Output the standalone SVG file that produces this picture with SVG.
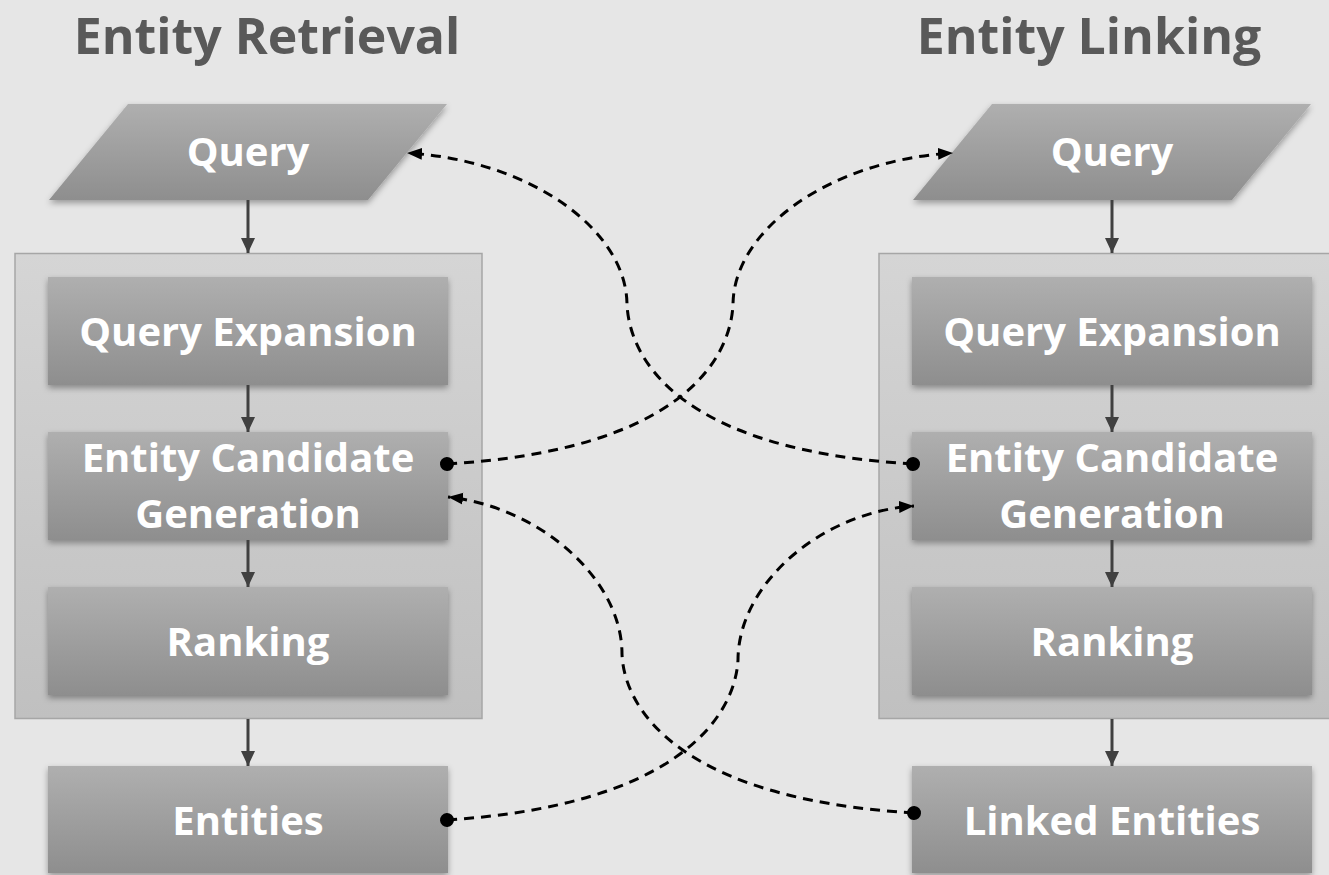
<svg xmlns="http://www.w3.org/2000/svg" width="1329" height="875" viewBox="0 0 1329 875">
<style>
.title{font-family:"Open Sans","Liberation Sans",sans-serif;font-weight:bold;font-size:50px;fill:#595959;text-anchor:middle}
.lbl{font-family:"Open Sans","Liberation Sans",sans-serif;font-weight:bold;font-size:40px;fill:#ffffff;text-anchor:middle}
.box{fill:url(#gBox);filter:url(#sh)}
.cont{fill:url(#gCont);stroke:#a6a6a6;stroke-width:1.5}
.flow{stroke:#404040;stroke-width:3;fill:none;marker-end:url(#aSolid)}
.dash{stroke:#000;stroke-width:3;fill:none;stroke-dasharray:10 7;marker-start:url(#dot);marker-end:url(#aDash)}
</style>
<defs>
<linearGradient id="gBox" x1="0" y1="0" x2="0" y2="1">
<stop offset="0" stop-color="#afafaf"/>
<stop offset="1" stop-color="#8e8e8e"/>
</linearGradient>
<linearGradient id="gCont" x1="0" y1="0" x2="0" y2="1">
<stop offset="0" stop-color="#d5d5d5"/>
<stop offset="1" stop-color="#c0c0c0"/>
</linearGradient>
<filter id="sh" x="-10%" y="-10%" width="120%" height="130%">
<feDropShadow dx="0" dy="3" stdDeviation="3" flood-color="#000" flood-opacity="0.35"/>
</filter>
<marker id="aSolid" markerUnits="userSpaceOnUse" markerWidth="16" markerHeight="16" viewBox="0 0 16 16" refX="15" refY="8" orient="auto">
<path d="M0,1 L15,8 L0,15 Z" fill="#404040"/>
</marker>
<marker id="aDash" markerUnits="userSpaceOnUse" markerWidth="16" markerHeight="16" viewBox="0 0 16 16" refX="15" refY="8" orient="auto">
<path d="M0,2 L15,8 L0,14 Z" fill="#000"/>
</marker>
<marker id="dot" markerUnits="userSpaceOnUse" markerWidth="16" markerHeight="16" viewBox="0 0 16 16" refX="8" refY="8" orient="auto">
<circle cx="8" cy="8" r="7" fill="#000"/>
</marker>
</defs>
<rect width="1329" height="875" fill="#e6e6e6"/>

<g id="title-left"><text class="title" x="267" y="54">Entity Retrieval</text></g>
<g id="title-right"><text class="title" x="1089" y="54">Entity Linking</text></g>

<g id="container-left"><rect class="cont" x="15" y="253.5" width="467" height="465"/></g>
<g id="container-right"><rect class="cont" x="879" y="253.5" width="470" height="465"/></g>

<g id="query-left"><polygon class="box" points="128,104 447,104 368,200 49,200"/><text class="lbl" x="248" y="166">Query</text></g>
<g id="qe-left"><rect class="box" x="48" y="277" width="400" height="108"/><text class="lbl" x="248" y="346">Query Expansion</text></g>
<g id="ecg-left"><rect class="box" x="48" y="432" width="400" height="108"/><text class="lbl" x="248" y="472">Entity Candidate</text><text class="lbl" x="248" y="528">Generation</text></g>
<g id="rank-left"><rect class="box" x="48" y="587" width="400" height="108"/><text class="lbl" x="248" y="656">Ranking</text></g>
<g id="ent-left"><rect class="box" x="48" y="766" width="400" height="107"/><text class="lbl" x="248" y="835">Entities</text></g>

<g id="query-right"><polygon class="box" points="992,104 1311,104 1232,200 913,200"/><text class="lbl" x="1112" y="166">Query</text></g>
<g id="qe-right"><rect class="box" x="912" y="277" width="400" height="108"/><text class="lbl" x="1112" y="346">Query Expansion</text></g>
<g id="ecg-right"><rect class="box" x="912" y="432" width="400" height="108"/><text class="lbl" x="1112" y="472">Entity Candidate</text><text class="lbl" x="1112" y="528">Generation</text></g>
<g id="rank-right"><rect class="box" x="912" y="587" width="400" height="108"/><text class="lbl" x="1112" y="656">Ranking</text></g>
<g id="ent-right"><rect class="box" x="912" y="766" width="400" height="107"/><text class="lbl" x="1112" y="835">Linked Entities</text></g>

<g id="connectors">
<line class="flow" x1="248" y1="200" x2="248" y2="253"/>
<line class="flow" x1="248" y1="385" x2="248" y2="432"/>
<line class="flow" x1="248" y1="540" x2="248" y2="587"/>
<line class="flow" x1="248" y1="719" x2="248" y2="766"/>
<line class="flow" x1="1112" y1="200" x2="1112" y2="253"/>
<line class="flow" x1="1112" y1="385" x2="1112" y2="432"/>
<line class="flow" x1="1112" y1="540" x2="1112" y2="587"/>
<line class="flow" x1="1112" y1="719" x2="1112" y2="766"/>
<path class="dash" d="M913,464 C680,450 630,360 627,305 C627,230 530,160 407,153"/>
<path class="dash" d="M447,464 C680,450 730,360 733,305 C733,230 830,160 953,153"/>
<path class="dash" d="M914,813 C680,799 624,709 622,654 C622,579 540,507 448,497"/>
<path class="dash" d="M447,820 C680,805 735,715 738,660 C738,585 820,512 914,506"/>
</g>
</svg>
